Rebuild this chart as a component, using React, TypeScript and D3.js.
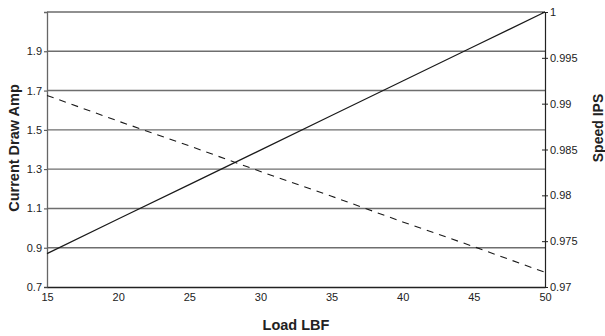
import { useEffect, useRef } from 'react'
import * as d3 from 'd3'

const loads = [15, 20, 25, 30, 35, 40, 45, 50]
const currentAmp = [0.87, 1.046, 1.221, 1.397, 1.573, 1.749, 1.924, 2.1]
const speedIps = [0.9909, 0.9881, 0.9854, 0.9826, 0.9799, 0.9771, 0.9744, 0.9716]

const leftTicks = [0.7, 0.9, 1.1, 1.3, 1.5, 1.7, 1.9]
const rightTicks = [0.97, 0.975, 0.98, 0.985, 0.99, 0.995, 1]

const FONT = '"Liberation Sans", Arial, Helvetica, sans-serif'

export default function App() {
  const svgRef = useRef<SVGSVGElement>(null)

  useEffect(() => {
    if (!svgRef.current) return
    const svg = d3.select(svgRef.current)
    svg.selectAll('*').remove()

    const width = 605
    const height = 336
    const margin = { top: 12, right: 60, bottom: 49, left: 47 }
    const innerW = width - margin.left - margin.right
    const innerH = height - margin.top - margin.bottom

    const g = svg.append('g').attr('transform', `translate(${margin.left},${margin.top})`)

    const x = d3.scaleLinear().domain([15, 50]).range([0, innerW])
    const yL = d3.scaleLinear().domain([0.7, 2.1]).range([innerH, 0])
    const yR = d3.scaleLinear().domain([0.97, 1]).range([innerH, 0])

    // horizontal gridlines at left ticks
    g.append('g')
      .selectAll('line')
      .data(leftTicks.slice(1))
      .join('line')
      .attr('x1', 0)
      .attr('x2', innerW)
      .attr('y1', d => yL(d))
      .attr('y2', d => yL(d))
      .attr('stroke', '#6e6e6e')
      .attr('stroke-width', 1.4)

    // top border
    g.append('line')
      .attr('x1', 0).attr('x2', innerW).attr('y1', 0).attr('y2', 0)
      .attr('stroke', '#222').attr('stroke-width', 1.2)

    // left axis
    g.append('g')
      .call(d3.axisLeft(yL).tickValues(leftTicks).tickFormat(d3.format('.1f')).tickSize(3).tickPadding(2))
      .call(a => a.select('.domain').attr('stroke', '#666').attr('stroke-width', 1.3))
      .call(a => a.selectAll('.tick line').attr('stroke', '#444'))
      .call(a => a.selectAll('.tick text').attr('fill', '#222').attr('font-size', '11px').attr('font-family', FONT))

    // right axis
    g.append('g')
      .attr('transform', `translate(${innerW},0)`)
      .call(d3.axisRight(yR).tickValues(rightTicks).tickFormat(d => String(+d)).tickSizeInner(3).tickSizeOuter(0).tickPadding(2))
      .call(a => a.select('.domain').attr('stroke', '#222').attr('stroke-width', 1.2))
      .call(a => a.selectAll('.tick line').attr('x1', -3).attr('stroke', '#222'))
      .call(a => a.selectAll('.tick text').attr('fill', '#222').attr('font-size', '11px').attr('font-family', FONT))

    // bottom axis
    g.append('g')
      .attr('transform', `translate(0,${innerH})`)
      .call(d3.axisBottom(x).tickValues(loads).tickSize(0).tickPadding(6))
      .call(a => a.select('.domain').attr('stroke', '#222').attr('stroke-width', 1.3))
      .call(a => a.selectAll('.tick text').attr('fill', '#222').attr('font-size', '11px').attr('font-family', FONT))

    // current (left axis) solid
    const lineL = d3.line<number>()
      .x((_, i) => x(loads[i]))
      .y(d => yL(d))
    g.append('path')
      .datum(currentAmp)
      .attr('d', lineL)
      .attr('fill', 'none')
      .attr('stroke', '#1a1a1a')
      .attr('stroke-width', 1.2)

    // speed (right axis) dashed
    const lineR = d3.line<number>()
      .x((_, i) => x(loads[i]))
      .y(d => yR(d))
    g.append('path')
      .datum(speedIps)
      .attr('d', lineR)
      .attr('fill', 'none')
      .attr('stroke', '#1a1a1a')
      .attr('stroke-width', 1.1)
      .attr('stroke-dasharray', '7,6')

    // axis titles
    svg.append('text')
      .attr('transform', `translate(19,148) rotate(-90)`)
      .attr('text-anchor', 'middle')
      .attr('font-family', FONT)
      .attr('font-weight', 'bold')
      .attr('font-size', '14.5px')
      .attr('fill', '#222')
      .text('Current Draw Amp')

    svg.append('text')
      .attr('transform', `translate(603,128) rotate(-90)`)
      .attr('text-anchor', 'middle')
      .attr('font-family', FONT)
      .attr('font-weight', 'bold')
      .attr('font-size', '14px')
      .attr('fill', '#222')
      .text('Speed IPS')

    svg.append('text')
      .attr('x', 296)
      .attr('y', 330)
      .attr('text-anchor', 'middle')
      .attr('font-family', FONT)
      .attr('font-weight', 'bold')
      .attr('font-size', '14.5px')
      .attr('fill', '#222')
      .text('Load LBF')
  }, [])

  return (
    <div style={{ position: 'absolute', left: 0, top: 0 }}>
      <svg ref={svgRef} width={605} height={336} style={{ display: 'block', background: '#fff' }} />
    </div>
  )
}
